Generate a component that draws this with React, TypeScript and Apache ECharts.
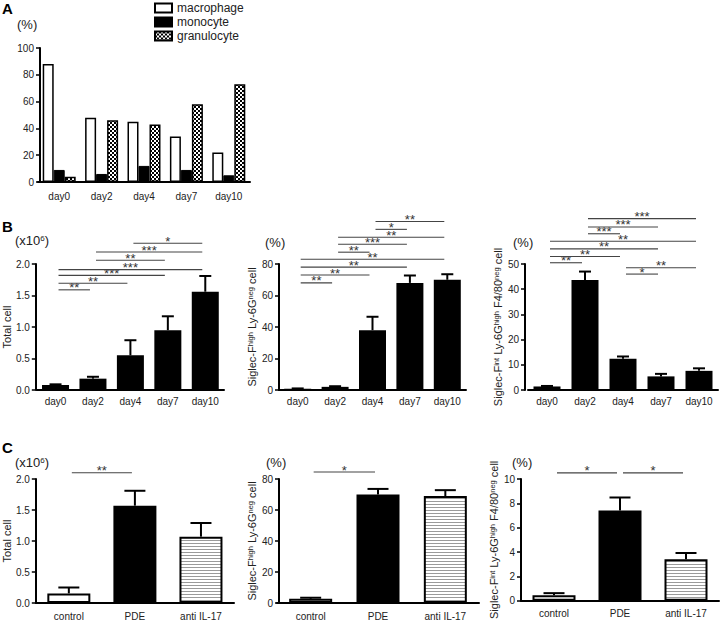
import React, { useEffect, useRef } from "react";
import * as echarts from "echarts";

// ---------------- DATA ----------------
const days = ["day0", "day2", "day4", "day7", "day10"];
const groups = ["control", "PDE", "anti IL-17"];

// Panel A (%)
const macrophage = [88, 48, 45, 34, 22];
const monocyte = [9, 6, 12, 9, 5];
const granulocyte = [4, 46, 43, 58, 73];
const ticksA = [0, 20, 40, 60, 80, 100];

// Panel B (time course): mean and top of error bar
const totalCellDay = [0.08, 0.18, 0.55, 0.95, 1.56];
const totalCellDayTop = [0.09, 0.21, 0.79, 1.17, 1.81];
const eosDay = [0.8, 2, 38, 68, 70];
const eosDayTop = [1.0, 2.4, 46.5, 72.7, 73.5];
const neuDay = [1.4, 43.7, 12.4, 5.4, 7.6];
const neuDayTop = [1.6, 47, 13.3, 6.4, 8.6];

// Panel C (treatment groups)
const totalCellGrp = [0.155, 1.57, 1.07];
const totalCellGrpTop = [0.25, 1.81, 1.29];
const eosGrp = [2.7, 70, 69];
const eosGrpTop = [3.4, 73.6, 72.8];
const neuGrp = [0.45, 7.42, 3.4];
const neuGrpTop = [0.62, 8.48, 3.92];

const ticksTotal = [0, 0.5, 1.0, 1.5, 2.0];
const ticksEos = [0, 20, 40, 60, 80];
const ticksNeuDay = [0, 10, 20, 30, 40, 50];
const ticksNeuGrp = [0, 2, 4, 6, 8, 10];

// significance brackets: [fromIndex, toIndex, yValue]
const sigTotalDay = [[0, 1, 1.59], [0, 2, 1.695], [0, 3, 1.82], [0, 4, 1.91], [1, 3, 2.06], [1, 4, 2.19], [2, 4, 2.33]];
const sigTotalDayStars = ["**", "**", "***", "***", "**", "***", "*"];
const sigEosDay = [[0, 1, 68], [0, 2, 73], [0, 3, 78], [0, 4, 83], [1, 2, 87.5], [1, 3, 92.5], [1, 4, 97], [2, 3, 102], [2, 4, 107]];
const sigEosDayStars = ["**", "**", "**", "**", "**", "***", "**", "*", "**"];
const sigNeuDay = [[0, 1, 50.5], [0, 2, 53], [0, 3, 56], [0, 4, 59], [1, 2, 62], [1, 3, 64.7], [1, 4, 68], [2, 4, 48.5], [2, 3, 46]];
const sigNeuDayStars = ["**", "**", "**", "**", "***", "***", "***", "**", "*"];
const sigTotalGrp = [[0, 1, 2.1]];
const sigTotalGrpStars = ["**"];
const sigEosGrp = [[0, 1, 84.5]];
const sigEosGrpStars = ["*"];
const sigNeuGrp = [[0, 1, 10.5], [1, 2, 10.5]];
const sigNeuGrpStars = ["*", "*"];

// ---------------- STYLE ----------------
const FONT = '"Liberation Sans", Arial, Helvetica, sans-serif';
const TXT = "#222";

const nameEos = "Siglec-F{s|high} Ly-6G{s|neg} cell";
const nameNeu = "Siglec-F{s|int} Ly-6G{s|high} F4/80{s|neg} cell";

function makeChecker() {
  const c = document.createElement("canvas");
  c.width = 4;
  c.height = 4;
  const ctx = c.getContext("2d")!;
  ctx.fillStyle = "#fff";
  ctx.fillRect(0, 0, 4, 4);
  ctx.fillStyle = "#000";
  ctx.fillRect(0, 0, 2, 2);
  ctx.fillRect(2, 2, 2, 2);
  return c;
}
function makeStripes() {
  const c = document.createElement("canvas");
  c.width = 4;
  c.height = 3;
  const ctx = c.getContext("2d")!;
  ctx.fillStyle = "#fff";
  ctx.fillRect(0, 0, 4, 3);
  ctx.fillStyle = "#9a9a9a";
  ctx.fillRect(0, 0, 4, 1);
  return c;
}

function xAxisOf(gridIndex: number, cats: string[], margin: number) {
  return {
    type: "category",
    gridIndex,
    data: cats,
    boundaryGap: true,
    axisLine: { lineStyle: { color: "#000", width: 2 } },
    axisTick: { alignWithLabel: true, length: 4, lineStyle: { color: "#000", width: 1.5 } },
    axisLabel: { fontSize: 10, color: TXT, fontFamily: FONT, margin, interval: 0 },
  };
}

function yAxisOf(gridIndex: number, ticks: number[], dec: number, offset: number, name: string, nameGap: number) {
  return {
    type: "value",
    gridIndex,
    min: ticks[0],
    max: ticks[ticks.length - 1],
    interval: ticks[1] - ticks[0],
    offset,
    axisLine: { show: true, lineStyle: { color: "#000", width: 2 } },
    axisTick: { show: true, length: 4, lineStyle: { color: "#000", width: 1.5 } },
    splitLine: { show: false },
    axisLabel: {
      fontSize: 10,
      color: TXT,
      fontFamily: FONT,
      margin: 6,
      formatter: (v: number) => (dec ? v.toFixed(dec) : String(v)),
    },
    name,
    nameLocation: "middle",
    nameGap,
    nameRotate: 90,
    nameTextStyle: {
      fontSize: 11,
      color: TXT,
      fontFamily: FONT,
      rich: { s: { fontSize: 7.5, verticalAlign: "top", color: TXT, fontFamily: FONT } },
    },
  };
}

function errSeries(idx: number, means: number[], tops: number[], capW: number) {
  return {
    type: "custom",
    xAxisIndex: idx,
    yAxisIndex: idx,
    z: 5,
    clip: false,
    silent: true,
    encode: { x: 0, y: [1, 2] },
    data: means.map((m, i) => [i, m, tops[i]]),
    renderItem: (params: any, api: any) => {
      const p1 = api.coord([api.value(0), api.value(1)]);
      const p2 = api.coord([api.value(0), api.value(2)]);
      const hw = capW / 2;
      return {
        type: "group",
        children: [
          { type: "line", shape: { x1: p1[0], y1: p1[1], x2: p2[0], y2: p2[1] }, style: { stroke: "#000", lineWidth: 2 } },
          { type: "line", shape: { x1: p2[0] - hw, y1: p2[1], x2: p2[0] + hw, y2: p2[1] }, style: { stroke: "#000", lineWidth: 2 } },
        ],
      };
    },
  };
}

function sigSeries(idx: number, sig: number[][], stars: string[]) {
  return {
    type: "custom",
    xAxisIndex: idx,
    yAxisIndex: idx,
    z: 6,
    clip: false,
    silent: true,
    encode: { x: [0, 1], y: 2 },
    data: sig,
    renderItem: (params: any, api: any) => {
      const p1 = api.coord([api.value(0), api.value(2)]);
      const p2 = api.coord([api.value(1), api.value(2)]);
      const inset = 3;
      const x1 = p1[0] + inset;
      const x2 = p2[0] - inset;
      return {
        type: "group",
        children: [
          { type: "line", shape: { x1, y1: p1[1], x2, y2: p1[1] }, style: { stroke: "#444", lineWidth: 1.1 } },
          {
            type: "text",
            x: (x1 + x2) / 2,
            y: p1[1] - 2,
            style: {
              text: stars[params.dataIndex],
              align: "center",
              verticalAlign: "middle",
              fontSize: 13,
              fontFamily: FONT,
              fill: "#333",
            },
          },
        ],
      };
    },
  };
}

export default function App() {
  const ref = useRef<HTMLDivElement>(null);

  useEffect(() => {
    const chart = echarts.init(ref.current!, undefined, { renderer: "svg", width: 720, height: 621 });
    const checkerFill = { image: makeChecker(), repeat: "repeat" };
    const stripeFill = { image: makeStripes(), repeat: "repeat" };

    const grpStyles = [
      { color: "#fff", borderColor: "#000", borderWidth: 2 },
      { color: "#000" },
      { color: stripeFill, borderColor: "#000", borderWidth: 2 },
    ];

    const panels = [
      { left: 36, top: 264, width: 188, height: 126, offset: 1, cats: days, ticks: ticksTotal, dec: 1, name: "Total cell", nameGap: 21, barW: 27, capW: 12, means: totalCellDay, tops: totalCellDayTop, sig: sigTotalDay, stars: sigTotalDayStars, grp: false, lm: 6 },
      { left: 279, top: 264, width: 187, height: 126, offset: 0, cats: days, ticks: ticksEos, dec: 0, name: nameEos, nameGap: 18, barW: 27, capW: 12, means: eosDay, tops: eosDayTop, sig: sigEosDay, stars: sigEosDayStars, grp: false, lm: 6 },
      { left: 528, top: 264, width: 190, height: 126, offset: 3, cats: days, ticks: ticksNeuDay, dec: 0, name: nameNeu, nameGap: 19, barW: 27, capW: 12, means: neuDay, tops: neuDayTop, sig: sigNeuDay, stars: sigNeuDayStars, grp: false, lm: 6 },
      { left: 34, top: 479, width: 200, height: 126, offset: 0, cats: groups, ticks: ticksTotal, dec: 1, name: "Total cell", nameGap: 21, barW: 43, capW: 21, means: totalCellGrp, tops: totalCellGrpTop, sig: sigTotalGrp, stars: sigTotalGrpStars, grp: true, lm: 8 },
      { left: 277, top: 479, width: 202, height: 126, offset: -2, cats: groups, ticks: ticksEos, dec: 0, name: nameEos, nameGap: 21, barW: 43, capW: 21, means: eosGrp, tops: eosGrpTop, sig: sigEosGrp, stars: sigEosGrpStars, grp: true, lm: 8 },
      { left: 521, top: 479, width: 198, height: 126, offset: 0, cats: groups, ticks: ticksNeuGrp, dec: 0, name: nameNeu, nameGap: 16, barW: 43, capW: 21, means: neuGrp, tops: neuGrpTop, sig: sigNeuGrp, stars: sigNeuGrpStars, grp: true, lm: 8 },
    ];

    const grids: any[] = [{ left: 38, top: 48, width: 212, height: 134 }];
    const xAxes: any[] = [xAxisOf(0, days, 9)];
    const yAxes: any[] = [yAxisOf(0, ticksA, 0, -2, "", 0)];
    const series: any[] = [
      { type: "bar", name: "macrophage", xAxisIndex: 0, yAxisIndex: 0, data: macrophage, barWidth: 11, barGap: "0%", itemStyle: { color: "#fff", borderColor: "#000", borderWidth: 1.5 } },
      { type: "bar", name: "monocyte", xAxisIndex: 0, yAxisIndex: 0, data: monocyte, barWidth: 11, barGap: "0%", itemStyle: { color: "#000", borderColor: "#000", borderWidth: 1 } },
      { type: "bar", name: "granulocyte", xAxisIndex: 0, yAxisIndex: 0, data: granulocyte, barWidth: 11, barGap: "0%", itemStyle: { color: checkerFill, borderColor: "#000", borderWidth: 1.5 } },
    ];

    panels.forEach((p, k) => {
      const gi = k + 1;
      grids.push({ left: p.left, top: p.top, width: p.width, height: p.height });
      xAxes.push(xAxisOf(gi, p.cats, p.lm));
      yAxes.push(yAxisOf(gi, p.ticks, p.dec, p.offset, p.name, p.nameGap));
      series.push({
        type: "bar",
        name: "panel" + gi,
        xAxisIndex: gi,
        yAxisIndex: gi,
        barWidth: p.barW,
        data: p.means.map((v, i) => (p.grp ? { value: v, itemStyle: grpStyles[i] } : v)),
        itemStyle: { color: "#000" },
      });
      series.push(errSeries(gi, p.means, p.tops, p.capW));
      series.push(sigSeries(gi, p.sig, p.stars));
    });

    const unitStyle = (text: string) => ({
      text,
      fontSize: 13,
      fontFamily: FONT,
      fill: TXT,
      rich: { s: { fontSize: 8, verticalAlign: "top", fontFamily: FONT, fill: TXT } },
    });
    const letter = (text: string) => ({ text, fontSize: 15, fontWeight: "bold", fontFamily: FONT, fill: "#000" });

    const graphic = [
      { type: "text", left: 2, top: 1, style: letter("A") },
      { type: "text", left: 2, top: 219, style: letter("B") },
      { type: "text", left: 2, top: 440, style: letter("C") },
      { type: "text", left: 17, top: 18, style: unitStyle("(%)") },
      { type: "text", left: 15, top: 234, style: unitStyle("(x10{s|6})") },
      { type: "text", left: 265, top: 236, style: unitStyle("(%)") },
      { type: "text", left: 513, top: 236, style: unitStyle("(%)") },
      { type: "text", left: 15, top: 456, style: unitStyle("(x10{s|6})") },
      { type: "text", left: 266, top: 456, style: unitStyle("(%)") },
      { type: "text", left: 512, top: 456, style: unitStyle("(%)") },
    ];

    chart.setOption({
      animation: false,
      backgroundColor: "#fff",
      textStyle: { fontFamily: FONT },
      legend: {
        data: ["macrophage", "monocyte", "granulocyte"],
        orient: "vertical",
        left: 154,
        top: 2,
        padding: 0,
        itemWidth: 17,
        itemHeight: 9,
        itemGap: 2,
        icon: "rect",
        selectedMode: false,
        textStyle: { fontSize: 12, color: TXT, fontFamily: FONT },
      },
      grid: grids,
      xAxis: xAxes,
      yAxis: yAxes,
      series,
      graphic,
    });
    return () => chart.dispose();
  }, []);

  return <div ref={ref} style={{ position: "absolute", left: 0, top: 0, width: 720, height: 621, background: "#fff" }} />;
}
